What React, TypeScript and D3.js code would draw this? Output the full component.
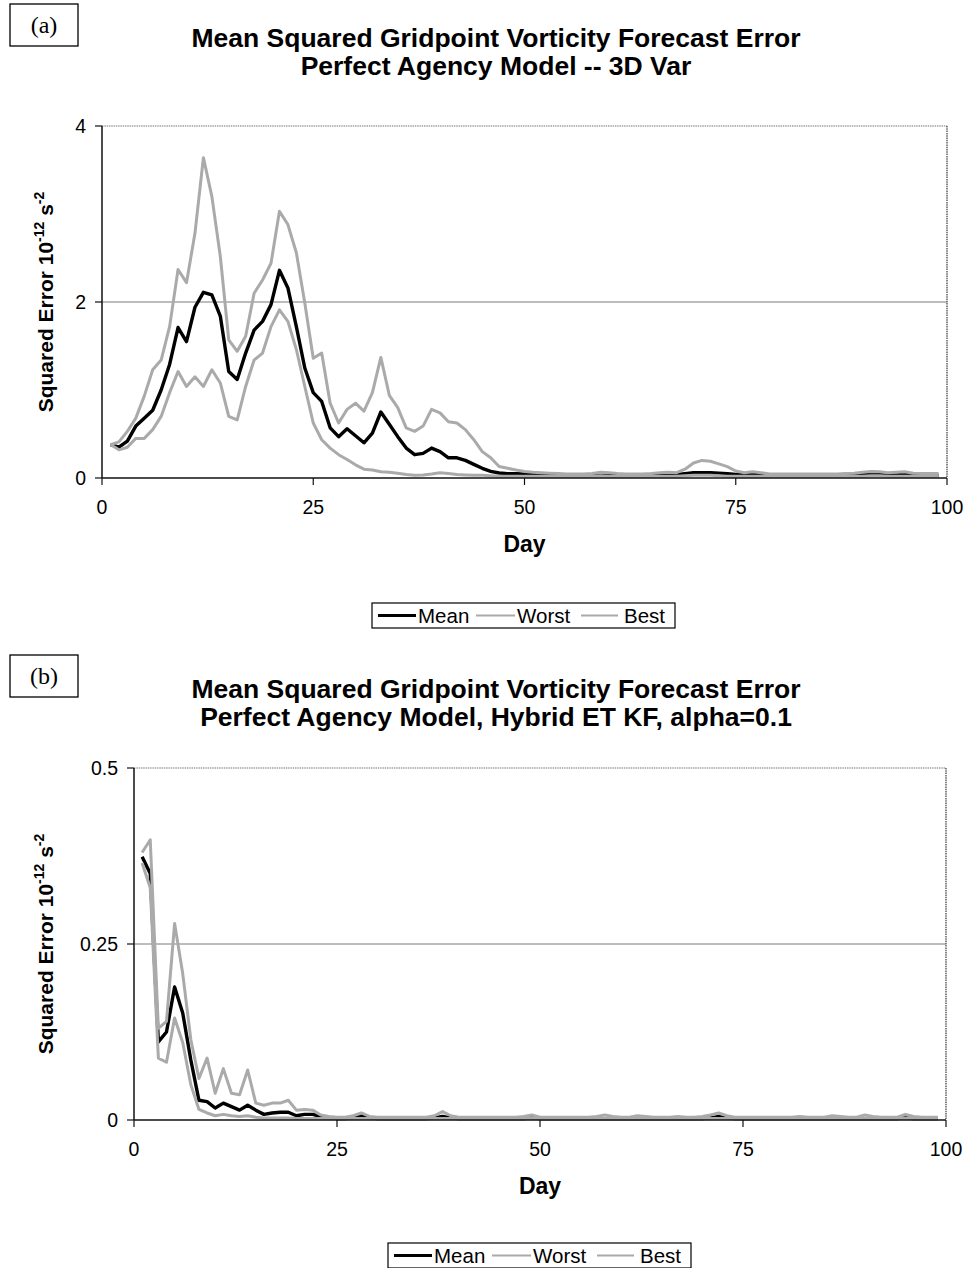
import React from "react";
import * as d3 from "d3";

// ---------- DATA ----------
const days: number[] = Array.from({ length: 99 }, (_, i) => i + 1);

// Panel (a): 3D Var
const meanA: number[] = [
  0.38, 0.35, 0.42, 0.59, 0.68, 0.77, 1.0, 1.29, 1.71, 1.55,
  1.94, 2.11, 2.08, 1.84, 1.21, 1.12, 1.42, 1.68, 1.78, 1.97,
  2.36, 2.16, 1.72, 1.25, 0.97, 0.87, 0.57, 0.47, 0.56, 0.48,
  0.4, 0.51, 0.75, 0.61, 0.47, 0.34, 0.265, 0.28, 0.34, 0.3,
  0.23, 0.23, 0.2, 0.155, 0.11, 0.075, 0.057, 0.05, 0.05, 0.045,
  0.04, 0.04, 0.035, 0.035, 0.03, 0.03, 0.03, 0.03, 0.035, 0.035,
  0.03, 0.03, 0.03, 0.03, 0.03, 0.035, 0.035, 0.04, 0.05, 0.06,
  0.06, 0.06, 0.055, 0.05, 0.04, 0.04, 0.045, 0.04, 0.03, 0.03,
  0.03, 0.03, 0.03, 0.03, 0.03, 0.03, 0.03, 0.03, 0.03, 0.035,
  0.04, 0.04, 0.035, 0.035, 0.04, 0.035, 0.03, 0.03, 0.03,
];
const worstA: number[] = [
  0.38, 0.41, 0.53, 0.68, 0.93, 1.23, 1.34, 1.72, 2.37, 2.22,
  2.78, 3.64, 3.2, 2.52, 1.57, 1.44, 1.61, 2.1, 2.25, 2.44,
  3.03, 2.88, 2.56, 1.99, 1.36, 1.42, 0.85, 0.625, 0.78, 0.85,
  0.76, 0.97, 1.37, 0.94, 0.8, 0.57, 0.53, 0.59, 0.78, 0.74,
  0.64, 0.625, 0.55, 0.435, 0.3, 0.23, 0.13, 0.11, 0.09, 0.075,
  0.065, 0.06, 0.055, 0.05, 0.045, 0.045, 0.045, 0.05, 0.065, 0.06,
  0.05, 0.045, 0.045, 0.045, 0.05, 0.06, 0.065, 0.06, 0.1, 0.17,
  0.2, 0.19, 0.16, 0.13, 0.08, 0.06, 0.07, 0.06, 0.045, 0.045,
  0.045, 0.045, 0.045, 0.045, 0.045, 0.045, 0.045, 0.05, 0.055, 0.065,
  0.075, 0.07, 0.06, 0.065, 0.07, 0.055, 0.05, 0.05, 0.05,
];
const bestA: number[] = [
  0.38, 0.32, 0.35, 0.45, 0.45, 0.55, 0.7, 0.97, 1.21, 1.04,
  1.15, 1.04, 1.23, 1.08, 0.7, 0.66, 1.04, 1.34, 1.42, 1.72,
  1.91, 1.78, 1.46, 1.04, 0.625, 0.435, 0.34, 0.265, 0.21, 0.15,
  0.1, 0.09, 0.07, 0.065, 0.055, 0.04, 0.03, 0.035, 0.045, 0.06,
  0.05, 0.04, 0.035, 0.03, 0.03, 0.025, 0.02, 0.02, 0.02, 0.02,
  0.02, 0.02, 0.02, 0.02, 0.02, 0.02, 0.02, 0.02, 0.025, 0.02,
  0.02, 0.02, 0.02, 0.02, 0.02, 0.02, 0.02, 0.02, 0.025, 0.03,
  0.03, 0.03, 0.025, 0.02, 0.02, 0.02, 0.02, 0.02, 0.02, 0.02,
  0.02, 0.02, 0.02, 0.02, 0.02, 0.02, 0.02, 0.02, 0.02, 0.02,
  0.025, 0.025, 0.02, 0.02, 0.02, 0.02, 0.02, 0.02, 0.02,
];

// Panel (b): Hybrid ET KF, alpha=0.1
const meanB: number[] = [
  0.374, 0.35, 0.111, 0.125, 0.189, 0.152, 0.085, 0.028, 0.026, 0.017,
  0.024, 0.019, 0.014, 0.021, 0.014, 0.008, 0.01, 0.011, 0.011, 0.006,
  0.008, 0.008, 0.005, 0.003, 0.002, 0.002, 0.003, 0.006, 0.003, 0.002,
  0.002, 0.002, 0.002, 0.002, 0.002, 0.002, 0.003, 0.005, 0.003, 0.002,
  0.002, 0.002, 0.002, 0.002, 0.002, 0.002, 0.002, 0.002, 0.003, 0.002,
  0.002, 0.002, 0.002, 0.002, 0.002, 0.002, 0.002, 0.002, 0.002, 0.002,
  0.002, 0.002, 0.002, 0.002, 0.002, 0.002, 0.002, 0.002, 0.002, 0.002,
  0.003, 0.005, 0.003, 0.002, 0.002, 0.002, 0.002, 0.002, 0.002, 0.002,
  0.002, 0.002, 0.002, 0.002, 0.002, 0.002, 0.002, 0.002, 0.002, 0.002,
  0.002, 0.002, 0.002, 0.002, 0.003, 0.002, 0.002, 0.002, 0.002,
];
const worstB: number[] = [
  0.38, 0.398, 0.13, 0.14, 0.279, 0.208, 0.114, 0.059, 0.088, 0.038,
  0.073, 0.038, 0.036, 0.071, 0.024, 0.021, 0.024, 0.024, 0.028, 0.014,
  0.015, 0.014, 0.007, 0.005, 0.004, 0.004, 0.006, 0.01, 0.005, 0.004,
  0.004, 0.004, 0.004, 0.004, 0.004, 0.004, 0.006, 0.012, 0.006, 0.004,
  0.004, 0.004, 0.004, 0.004, 0.004, 0.004, 0.004, 0.005, 0.007, 0.004,
  0.004, 0.004, 0.004, 0.004, 0.004, 0.004, 0.005, 0.007, 0.005, 0.004,
  0.004, 0.006, 0.005, 0.004, 0.004, 0.004, 0.005, 0.004, 0.004, 0.005,
  0.007, 0.01, 0.006, 0.004, 0.004, 0.004, 0.004, 0.004, 0.004, 0.004,
  0.004, 0.005, 0.004, 0.004, 0.004, 0.006, 0.005, 0.004, 0.004, 0.007,
  0.005, 0.004, 0.004, 0.004, 0.008, 0.005, 0.004, 0.004, 0.004,
];
const bestB: number[] = [
  0.365, 0.33, 0.088, 0.082, 0.145, 0.11, 0.05, 0.015, 0.01, 0.006,
  0.008, 0.006, 0.005, 0.006, 0.004, 0.003, 0.003, 0.003, 0.003, 0.002,
  0.002, 0.002, 0.002, 0.002, 0.002, 0.002, 0.002, 0.002, 0.002, 0.002,
  0.002, 0.002, 0.002, 0.002, 0.002, 0.002, 0.002, 0.002, 0.002, 0.002,
  0.002, 0.002, 0.002, 0.002, 0.002, 0.002, 0.002, 0.002, 0.002, 0.002,
  0.002, 0.002, 0.002, 0.002, 0.002, 0.002, 0.002, 0.002, 0.002, 0.002,
  0.002, 0.002, 0.002, 0.002, 0.002, 0.002, 0.002, 0.002, 0.002, 0.002,
  0.002, 0.002, 0.002, 0.002, 0.002, 0.002, 0.002, 0.002, 0.002, 0.002,
  0.002, 0.002, 0.002, 0.002, 0.002, 0.002, 0.002, 0.002, 0.002, 0.002,
  0.002, 0.002, 0.002, 0.002, 0.002, 0.002, 0.002, 0.002, 0.002,
];

const xTicks: number[] = [0, 25, 50, 75, 100];
const yTicksA: number[] = [0, 2, 4];
const yTickLabelsA: string[] = ["0", "2", "4"];
const yTicksB: number[] = [0, 0.25, 0.5];
const yTickLabelsB: string[] = ["0", "0.25", "0.5"];
const legendNames: string[] = ["Mean", "Worst", "Best"];

const titleA: string[] = [
  "Mean Squared Gridpoint Vorticity Forecast Error",
  "Perfect Agency Model -- 3D Var",
];
const titleB: string[] = [
  "Mean Squared Gridpoint Vorticity Forecast Error",
  "Perfect Agency Model, Hybrid ET KF, alpha=0.1",
];

// ---------- STYLE ----------
const SANS = "'Liberation Sans', Arial, Helvetica, sans-serif";
const SERIF = "'Liberation Serif', 'Times New Roman', serif";
const GRAY = "#aaaaaa";

type PanelProps = {
  tag: string;
  title: string[];
  mean: number[];
  worst: number[];
  best: number[];
  yMax: number;
  yTicks: number[];
  yTickLabels: string[];
  plot: { l: number; r: number; t: number; b: number };
  top: number;
  legendX: number;
  legendY: number;
};

function Panel(p: PanelProps) {
  const x = d3.scaleLinear().domain([0, 100]).range([p.plot.l, p.plot.r]);
  const y = d3.scaleLinear().domain([0, p.yMax]).range([p.plot.b, p.plot.t]);
  const line = d3
    .line<number>()
    .x((_, i) => x(days[i]))
    .y((v) => y(v));
  const cx = (p.plot.l + p.plot.r) / 2;
  const cy = (p.plot.t + p.plot.b) / 2;
  const seriesStyles = [
    { data: p.mean, color: "#000", w: 3.4 },
    { data: p.worst, color: GRAY, w: 3 },
    { data: p.best, color: GRAY, w: 3 },
  ];
  const lx = p.legendX;
  const ly = p.legendY;
  return (
    <g>
      {/* tag box */}
      <rect x={10} y={p.top} width={68} height={42} fill="#fff" stroke="#000" strokeWidth={1.3} />
      <text x={44} y={p.top + 29} textAnchor="middle" fontFamily={SERIF} fontSize={24}>
        {p.tag}
      </text>
      {/* title */}
      {p.title.map((t, i) => (
        <text
          key={i}
          x={496}
          y={p.top + 42.5 + i * 28}
          textAnchor="middle"
          fontFamily={SANS}
          fontWeight="bold"
          fontSize={26.5}
        >
          {t}
        </text>
      ))}
      {/* gridlines / border */}
      {p.yTicks.slice(1, -1).map((v) => (
        <line key={v} x1={p.plot.l} x2={p.plot.r} y1={y(v)} y2={y(v)} stroke="#7a7a7a" strokeWidth={1} />
      ))}
      <line x1={p.plot.l} x2={p.plot.r} y1={p.plot.t} y2={p.plot.t} stroke="#777" strokeWidth={1.2} strokeDasharray="1.5 0.8" />
      <line x1={p.plot.r} x2={p.plot.r} y1={p.plot.t} y2={p.plot.b} stroke="#555" strokeWidth={1.4} strokeDasharray="1.5 0.8" />
      {/* series */}
      {seriesStyles.map((s, i) => (
        <path
          key={i}
          d={line(s.data) || ""}
          fill="none"
          stroke={s.color}
          strokeWidth={s.w}
          strokeLinejoin="round"
        />
      ))}
      {/* axes */}
      <line x1={p.plot.l} x2={p.plot.l} y1={p.plot.t} y2={p.plot.b} stroke="#111" strokeWidth={1.5} />
      <line x1={p.plot.l} x2={p.plot.r} y1={p.plot.b} y2={p.plot.b} stroke="#111" strokeWidth={1.5} />
      {p.yTicks.map((v, i) => (
        <g key={v}>
          <line x1={p.plot.l - 7} x2={p.plot.l} y1={y(v)} y2={y(v)} stroke="#111" strokeWidth={1.2} />
          <text
            x={p.plot.l - 16}
            y={y(v) + 6.5}
            textAnchor="end"
            fontFamily={SANS}
            fontSize={19.5}
          >
            {p.yTickLabels[i]}
          </text>
        </g>
      ))}
      {xTicks.map((v) => (
        <g key={v}>
          <line x1={x(v)} x2={x(v)} y1={p.plot.b} y2={p.plot.b + 7} stroke="#111" strokeWidth={1.2} />
          <text x={x(v)} y={p.plot.b + 36} textAnchor="middle" fontFamily={SANS} fontSize={19.5}>
            {v}
          </text>
        </g>
      ))}
      <text x={cx} y={p.plot.b + 73.5} textAnchor="middle" fontFamily={SANS} fontWeight="bold" fontSize={23}>
        Day
      </text>
      <text
        transform={`translate(53,${cy}) rotate(-90)`}
        textAnchor="middle"
        fontFamily={SANS}
        fontWeight="bold"
        fontSize={21}
      >
        Squared Error 10
        <tspan fontSize={14} dy={-9}>-12</tspan>
        <tspan dy={9}> s</tspan>
        <tspan fontSize={14} dy={-9}>-2</tspan>
      </text>
      {/* legend */}
      <rect x={lx} y={ly} width={303} height={25} fill="#fff" stroke="#000" strokeWidth={1.2} />
      <line x1={lx + 6} x2={lx + 44} y1={ly + 12.5} y2={ly + 12.5} stroke="#000" strokeWidth={3} />
      <text x={lx + 46} y={ly + 19.5} fontFamily={SANS} fontSize={20.5}>{legendNames[0]}</text>
      <line x1={lx + 104} x2={lx + 143} y1={ly + 12.5} y2={ly + 12.5} stroke={GRAY} strokeWidth={2} />
      <text x={lx + 145} y={ly + 19.5} fontFamily={SANS} fontSize={20.5}>{legendNames[1]}</text>
      <line x1={lx + 209} x2={lx + 246} y1={ly + 12.5} y2={ly + 12.5} stroke={GRAY} strokeWidth={2} />
      <text x={lx + 252} y={ly + 19.5} fontFamily={SANS} fontSize={20.5}>{legendNames[2]}</text>
    </g>
  );
}

export default function App() {
  return (
    <svg
      width={971}
      height={1268}
      viewBox="0 0 971 1268"
      style={{ position: "absolute", left: 0, top: 0, background: "#fff" }}
    >
      <rect x={0} y={0} width={971} height={1268} fill="#fff" />
      <Panel
        tag="(a)"
        title={titleA}
        mean={meanA}
        worst={worstA}
        best={bestA}
        yMax={4}
        yTicks={yTicksA}
        yTickLabels={yTickLabelsA}
        plot={{ l: 102, r: 947, t: 126, b: 478 }}
        top={4}
        legendX={372}
        legendY={603}
      />
      <Panel
        tag="(b)"
        title={titleB}
        mean={meanB}
        worst={worstB}
        best={bestB}
        yMax={0.5}
        yTicks={yTicksB}
        yTickLabels={yTickLabelsB}
        plot={{ l: 134, r: 946, t: 768, b: 1120 }}
        top={655}
        legendX={388}
        legendY={1243}
      />
    </svg>
  );
}
